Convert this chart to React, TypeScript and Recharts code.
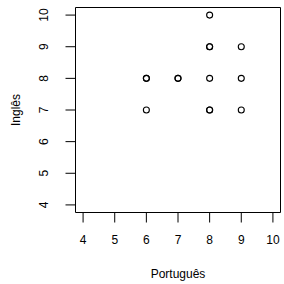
import React from 'react';
import { ScatterChart, Scatter, XAxis, YAxis, ReferenceArea } from 'recharts';

// notas por aluno (duplicados ficam sobrepostos, como no R)
const portugues = [6, 6, 6, 7, 7, 8, 8, 8, 8, 8, 8, 9, 9, 9];
const ingles = [8, 8, 7, 8, 8, 10, 9, 9, 8, 7, 7, 9, 8, 7];
const xTicks = [4, 5, 6, 7, 8, 9, 10];
const yTicks = [4, 5, 6, 7, 8, 9, 10];
const xDomain = [3.76, 10.24];
const yDomain = [3.76, 10.24];

const data = portugues.map((p, i) => ({ x: p, y: ingles[i] }));

const FONT = '"Liberation Sans", Arial, Helvetica, sans-serif';

const OpenCircle = (props: any) => (
  <circle cx={props.cx} cy={props.cy} r={3} fill="none" stroke="#000" strokeWidth={1.1} />
);

const YTick = (props: any) => {
  const { x, y, payload } = props;
  return (
    <text
      x={x}
      y={y}
      transform={`rotate(-90, ${x}, ${y})`}
      textAnchor="middle"
      fontSize={12}
      fontFamily={FONT}
      fill="#000"
    >
      {payload.value}
    </text>
  );
};

const App: React.FC = () => {
  return (
    <div style={{ position: 'absolute', left: 0, top: 0, width: 284, height: 284, background: '#fff' }}>
      <ScatterChart width={284} height={284} margin={{ top: 7.5, right: 3.5, bottom: 0, left: 0 }}>
        <XAxis
          type="number"
          dataKey="x"
          domain={xDomain}
          ticks={xTicks}
          allowDataOverflow
          axisLine={false}
          tickLine={{ stroke: '#000' }}
          tickSize={10}
          tickMargin={13}
          height={71.5}
          tick={{ fontSize: 12, fontFamily: FONT, fill: '#000' }}
          label={(p: any) => (
            <text
              x={p.viewBox ? p.viewBox.x + p.viewBox.width / 2 : 178}
              y={278}
              textAnchor="middle"
              fontSize={12}
              fontFamily={FONT}
              fill="#000"
            >
              Português
            </text>
          )}
        />
        <YAxis
          type="number"
          dataKey="y"
          domain={yDomain}
          ticks={yTicks}
          allowDataOverflow
          axisLine={false}
          tickLine={{ stroke: '#000' }}
          tickSize={10}
          tickMargin={17.5}
          width={75.5}
          tick={<YTick />}
          label={(p: any) => {
            const cy = p.viewBox ? p.viewBox.y + p.viewBox.height / 2 : 110;
            return (
              <text
                x={20}
                y={cy}
                transform={`rotate(-90, 20, ${cy})`}
                textAnchor="middle"
                fontSize={12}
                fontFamily={FONT}
                fill="#000"
              >
                Inglês
              </text>
            );
          }}
        />
        <ReferenceArea
          x1={xDomain[0]}
          x2={xDomain[1]}
          y1={yDomain[0]}
          y2={yDomain[1]}
          fill="none"
          stroke="#000"
          strokeWidth={1}
          fillOpacity={0}
        />
        <Scatter data={data} shape={OpenCircle} isAnimationActive={false} />
      </ScatterChart>
    </div>
  );
};

export default App;
